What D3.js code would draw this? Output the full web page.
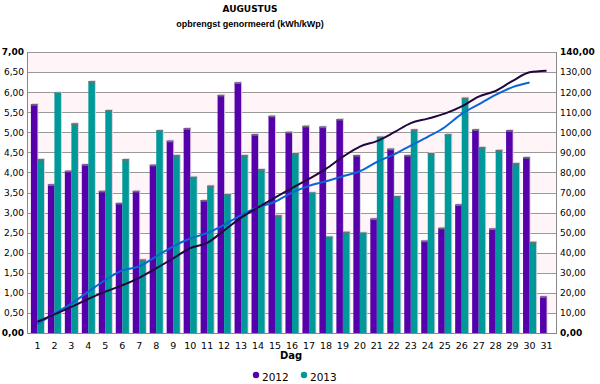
<!DOCTYPE html>
<meta charset="utf-8">

<!-- Load d3.js -->
<script src="https://d3js.org/d3.v7.min.js"></script>

<style>
body { margin: 0; background: #fff; }
text { font-family: "DejaVu Sans", Verdana, sans-serif; fill: #000; }
</style>

<!-- Create a div where the graph will take place -->
<div id="my_dataviz"></div>

<script>

// tick labels / categories
var days = ["1","2","3","4","5","6","7","8","9","10","11","12","13","14","15","16",
            "17","18","19","20","21","22","23","24","25","26","27","28","29","30","31"];
var years = ["2012", "2013"];

// daily yield (left axis)
var yield2012 = [5.70,3.70,4.04,4.20,3.54,3.24,3.54,4.19,4.79,5.10,3.31,5.93,6.24,4.95,5.41,5.01,
                 5.16,5.14,5.33,4.43,2.85,4.59,4.43,2.30,2.62,3.20,5.07,2.60,5.05,4.38,0.91];
var yield2013 = [4.33,5.99,5.22,6.27,5.55,4.33,1.83,5.05,4.43,3.89,3.67,3.46,4.43,4.08,2.93,4.48,
                 3.50,2.40,2.52,2.50,4.89,3.41,5.07,4.48,4.95,5.86,4.63,4.56,4.23,2.27,null];

// running total (right axis)
var total2012 = [5.6,9.3,13.0,17.0,20.6,23.8,27.5,32.2,37.2,42.3,44.9,51.1,57.5,62.6,67.5,72.2,
                 76.8,81.8,87.8,92.9,95.6,99.9,104.6,106.8,109.3,112.9,117.8,120.6,125.6,129.9,130.7];
var total2013 = [4.4,9.6,14.6,20.6,26.4,31.2,33.2,38.2,43.2,47.1,49.8,53.9,58.7,62.6,65.4,69.9,
                 73.3,75.6,78.1,80.6,85.2,88.9,93.4,97.7,102.5,109.2,113.9,118.6,122.5,124.8];

var leftTicks = [0,0.5,1,1.5,2,2.5,3,3.5,4,4.5,5,5.5,6,6.5,7];
var rightTicks = [0,10,20,30,40,50,60,70,80,90,100,110,120,130,140];

var barColor = {"2012": "#5500aa", "2013": "#009999"};
var lineColor = {"2012": "#22063f", "2013": "#0a66d4"};

// set the dimensions and margins of the graph
var W = 600, H = 384;
var margin = {top: 52, right: 43, bottom: 51, left: 27},
    width = W - margin.left - margin.right,
    height = H - margin.top - margin.bottom;

var svg = d3.select("#my_dataviz")
  .append("svg")
    .attr("width", W)
    .attr("height", H);

var g = svg.append("g")
    .attr("transform", "translate(" + margin.left + "," + margin.top + ")");

var comma = function(v) { return d3.format(".2f")(v).replace(".", ","); };

// scales
var x = d3.scaleBand().domain(days).range([0, width]).padding(0.23);
var xSub = d3.scaleBand().domain(years).range([0, x.bandwidth()]).padding(0);
var y = d3.scaleLinear().domain([0, 7]).range([height, 0]);
var y2 = d3.scaleLinear().domain([0, 140]).range([height, 0]);

// alternating background bands
g.append("g")
  .selectAll("rect")
  .data(rightTicks.slice(0, -1).filter(function(d) { return (d / 10) % 2 == 1; }))
  .enter().append("rect")
    .attr("x", 0)
    .attr("width", width)
    .attr("y", function(d) { return y2(d + 10); })
    .attr("height", function(d) { return y2(d) - y2(d + 10); })
    .attr("fill", "#fff4f8");

// gridlines
g.append("g")
  .selectAll("line")
  .data(leftTicks)
  .enter().append("line")
    .attr("x1", 0)
    .attr("x2", width)
    .attr("y1", function(d) { return Math.round(y(d)) + 0.5; })
    .attr("y2", function(d) { return Math.round(y(d)) + 0.5; })
    .attr("stroke", "#999")
    .attr("stroke-width", 1);

// bars
var barData = [];
days.forEach(function(d, i) {
  barData.push({day: d, key: "2012", value: yield2012[i]});
  if (yield2013[i] != null) barData.push({day: d, key: "2013", value: yield2013[i]});
});

var bars = g.append("g")
  .selectAll("g")
  .data(barData)
  .enter().append("g");

// light shadow
bars.append("rect")
    .attr("x", function(d) { return x(d.day) + xSub(d.key) + 1; })
    .attr("y", function(d) { return y(d.value) - 1; })
    .attr("width", xSub.bandwidth())
    .attr("height", function(d) { return height - y(d.value) + 1; })
    .attr("fill", "#d6d0dc");

bars.append("rect")
    .attr("x", function(d) { return x(d.day) + xSub(d.key); })
    .attr("y", function(d) { return y(d.value); })
    .attr("width", xSub.bandwidth())
    .attr("height", function(d) { return height - y(d.value); })
    .attr("fill", function(d) { return barColor[d.key]; });

// grey cap on top of every bar
bars.append("rect")
    .attr("x", function(d) { return x(d.day) + xSub(d.key); })
    .attr("y", function(d) { return y(d.value); })
    .attr("width", xSub.bandwidth())
    .attr("height", 1.5)
    .attr("fill", "#6f6f6f");

// cumulative lines
var line = d3.line()
  .x(function(d, i) { return x(days[i]) + x.bandwidth() / 2; })
  .y(function(d) { return y2(d); })
  .curve(d3.curveMonotoneX);

g.append("path")
  .datum(total2013)
  .attr("d", line)
  .attr("fill", "none")
  .attr("stroke", lineColor["2013"])
  .attr("stroke-width", 2);

g.append("path")
  .datum(total2012)
  .attr("d", line)
  .attr("fill", "none")
  .attr("stroke", lineColor["2012"])
  .attr("stroke-width", 2);

// axis frame
g.append("line").attr("x1", 0.5).attr("x2", 0.5).attr("y1", 0).attr("y2", height)
  .attr("stroke", "#888");
g.append("line").attr("x1", width - 0.5).attr("x2", width - 0.5).attr("y1", 0).attr("y2", height)
  .attr("stroke", "#888");
g.append("line").attr("x1", 0).attr("x2", width).attr("y1", height + 0.5).attr("y2", height + 0.5)
  .attr("stroke", "#888");

// left axis
var yAxis = g.append("g")
  .call(d3.axisLeft(y).tickValues(leftTicks).tickSize(0).tickPadding(3).tickFormat(comma));
yAxis.select(".domain").remove();
yAxis.selectAll("text")
  .style("font-family", "DejaVu Sans")
  .style("font-size", "9px")
  .style("font-weight", function(d) { return (d == 0 || d == 7) ? "bold" : "normal"; });

// right axis
var yAxis2 = g.append("g")
  .attr("transform", "translate(" + width + ",0)")
  .call(d3.axisRight(y2).tickValues(rightTicks).tickSize(0).tickPadding(3).tickFormat(comma));
yAxis2.select(".domain").remove();
yAxis2.selectAll("text")
  .style("font-family", "DejaVu Sans")
  .style("font-size", "9px")
  .style("font-weight", function(d) { return (d == 0 || d == 140) ? "bold" : "normal"; });

// x axis
var xAxis = g.append("g")
  .attr("transform", "translate(0," + height + ")")
  .call(d3.axisBottom(x).tickSize(0).tickPadding(9));
xAxis.select(".domain").remove();
xAxis.selectAll("text")
  .style("font-family", "DejaVu Sans")
  .style("font-size", "9.5px");

// axis title
svg.append("text")
  .attr("x", 291)
  .attr("y", 359)
  .attr("text-anchor", "middle")
  .style("font-size", "10px")
  .style("font-weight", "bold")
  .text("Dag");

// chart titles
svg.append("text")
  .attr("x", 250)
  .attr("y", 12)
  .attr("text-anchor", "middle")
  .style("font-size", "9px")
  .style("font-weight", "bold")
  .text("AUGUSTUS");

svg.append("text")
  .attr("x", 250)
  .attr("y", 27)
  .attr("text-anchor", "middle")
  .style("font-family", "'Liberation Sans', Arial, sans-serif")
  .style("font-size", "9px")
  .style("font-weight", "bold")
  .text("opbrengst genormeerd (kWh/kWp)");

// legend
var legend = svg.selectAll(".legend")
  .data(years)
  .enter().append("g")
  .attr("class", "legend")
  .attr("transform", function(d, i) { return "translate(" + (256 + i * 48) + ",375)"; });

legend.append("circle")
  .attr("r", 3.2)
  .attr("fill", function(d) { return barColor[d]; });

legend.append("text")
  .attr("x", 6)
  .attr("y", 5.5)
  .style("font-size", "10.5px")
  .text(function(d) { return d; });

</script>
